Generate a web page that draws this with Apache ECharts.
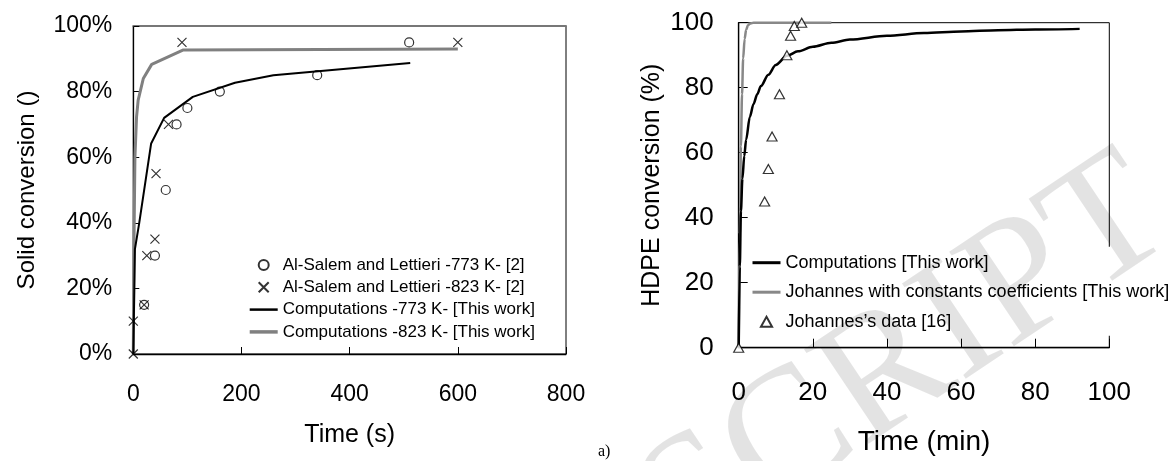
<!DOCTYPE html>
<html><head><meta charset="utf-8">
<script src="https://cdn.jsdelivr.net/npm/echarts@6/dist/echarts.min.js"></script>
<style>html,body{margin:0;padding:0;background:#fff}#c{width:1174px;height:461px}</style>
</head><body><div id="c"></div>
<script>
// ---- Left chart data (time in s, conversion in %) ----
const exp773Time = [20, 40, 60, 80, 100, 160, 340, 510];
const exp773Conv = [15, 30, 50, 70, 75, 80, 85, 95];
const exp823Time = [0, 0, 20, 25, 40, 42, 65, 90, 600];
const exp823Conv = [0, 10, 15, 30, 35, 55, 70, 95, 95];
const comp773Time = [0, 3, 11, 33, 57, 110, 188, 259, 512];
const comp773Conv = [0, 32, 40, 64.2, 72, 78.4, 82.7, 85, 88.7];
const comp823Time = [0, 1, 3, 6, 9, 18.5, 34, 92.6, 600];
const comp823Conv = [0, 30, 60, 72.3, 77.4, 84, 88.3, 92.7, 93];

// ---- Right chart data (time in min, conversion in %) ----
const johDataTime = [0, 7, 8, 9, 11, 13, 14, 15, 17];
const johDataConv = [0, 45, 55, 65, 78, 90, 96, 99, 100];
const compTime = [0, 0.3, 0.6, 1, 1.5, 2, 3, 4, 5, 6, 8, 10, 13, 16, 20, 25, 30, 40, 50, 60, 70, 80, 92];
const compConv = [0, 25, 42, 52, 59, 64, 71, 75, 78, 80.5, 84, 87, 89.8, 91.2, 92.6, 93.8, 94.8, 96, 96.8, 97.3, 97.7, 97.9, 98.1];
const johConstTime = [0, 0.3, 0.6, 0.9, 1.2, 1.6, 2, 2.5, 3, 4, 25];
const johConstConv = [0, 35, 62, 78, 89, 95, 97.8, 99.2, 99.7, 100, 100];

const leftNames = ['Al-Salem and Lettieri -773 K- [2]', 'Al-Salem and Lettieri -823 K- [2]',
  'Computations -773 K- [This work]', 'Computations -823 K- [This work]'];
const rightNames = ['Computations [This work]', 'Johannes with constants coefficients [This work]', 'Johannes\u2019s data [16]'];

const FF = '"Liberation Sans", Arial, sans-serif';
const pairs = (xs, ys) => xs.map((x, i) => [x, ys[i]]);
const crossPath = 'path://M0,0L10,10M10,0L0,10';
const lineIcon = h => 'path://M0,0L28,0L28,' + h + 'L0,' + h + 'Z';
const triIcon = 'path://M5,0L10,9L0,9Z';

const chart = echarts.init(document.getElementById('c'));
chart.setOption({
  animation: false,
  backgroundColor: '#fff',
  grid: [
    {left: 133.3, top: 26, width: 432.7, height: 328, show: true, borderColor: '#000', borderWidth: 1, outerBoundsMode: 'none', containLabel: false},
    {left: 738.7, top: 22.7, width: 370.6, height: 325, show: true, borderColor: '#000', borderWidth: 1, outerBoundsMode: 'none', containLabel: false}
  ],
  xAxis: [
    {type: 'value', gridIndex: 0, min: 0, max: 800, interval: 200,
      name: 'Time (s)', nameLocation: 'middle', nameGap: 69,
      nameTextStyle: {fontFamily: FF, fontSize: 25, color: '#000'},
      axisLine: {onZero: false, lineStyle: {color: '#000', width: 1.3}},
      axisTick: {inside: true, length: 7, lineStyle: {color: '#000'}},
      axisLabel: {fontFamily: FF, fontSize: 23, color: '#000', margin: 29},
      splitLine: {show: false}},
    {type: 'value', gridIndex: 1, min: 0, max: 100, interval: 20,
      name: 'Time (min)', nameLocation: 'middle', nameGap: 81,
      nameTextStyle: {fontFamily: FF, fontSize: 28, color: '#000'},
      axisLine: {onZero: false, lineStyle: {color: '#000', width: 1.3}},
      axisTick: {inside: true, length: 9, lineStyle: {color: '#000'}},
      axisLabel: {fontFamily: FF, fontSize: 26, color: '#000', margin: 32},
      splitLine: {show: false}},
    {type: 'value', gridIndex: 0, min: 0, max: 800, position: 'top',
      axisLine: {show: true, onZero: false, lineStyle: {color: '#777', width: 2}},
      axisTick: {show: false}, axisLabel: {show: false}, splitLine: {show: false}}
  ],
  yAxis: [
    {type: 'value', gridIndex: 0, min: 0, max: 100, interval: 20,
      name: 'Solid conversion ()', nameLocation: 'middle', nameGap: 94,
      nameTextStyle: {fontFamily: FF, fontSize: 24, color: '#000'},
      axisLine: {show: true, onZero: false, lineStyle: {color: '#000', width: 1.3}},
      axisTick: {show: true, inside: true, length: 6, lineStyle: {color: '#000'}},
      axisLabel: {fontFamily: FF, fontSize: 23, color: '#000', margin: 21, formatter: '{value}%'},
      splitLine: {show: false}},
    {type: 'value', gridIndex: 1, min: 0, max: 100, interval: 20,
      name: 'HDPE conversion (%)', nameLocation: 'middle', nameGap: 74,
      nameTextStyle: {fontFamily: FF, fontSize: 25, color: '#000'},
      axisLine: {show: true, onZero: false, lineStyle: {color: '#000', width: 1.3}},
      axisTick: {show: true, inside: true, length: 9, lineStyle: {color: '#000'}},
      axisLabel: {fontFamily: FF, fontSize: 26, color: '#000', margin: 25},
      splitLine: {show: false}}
  ],
  legend: [
    {data: [{name: leftNames[0]}, {name: leftNames[1]},
            {name: leftNames[2], icon: lineIcon(2.5)}, {name: leftNames[3], icon: lineIcon(3.5)}],
      orient: 'vertical', left: 249.7, top: 256.5, padding: 0, symbolKeepAspect: true,
      itemWidth: 28, itemHeight: 10, itemGap: 5.3,
      textStyle: {fontFamily: FF, fontSize: 17, color: '#000'}},
    {data: [{name: rightNames[0], icon: lineIcon(3)}, {name: rightNames[1], icon: lineIcon(3)},
            {name: rightNames[2], icon: triIcon}],
      orient: 'vertical', left: 749.5, top: 246.7, padding: [7, 10, 5, 3], symbolKeepAspect: true,
      backgroundColor: '#fff', itemWidth: 28, itemHeight: 10, itemGap: 11.5,
      textStyle: {fontFamily: FF, fontSize: 18, color: '#000'}}
  ],
  series: [
    {name: leftNames[2], type: 'line', xAxisIndex: 0, yAxisIndex: 0, data: pairs(comp773Time, comp773Conv),
      symbol: 'none', clip: false, lineStyle: {color: '#000', width: 2}, itemStyle: {color: '#000'}, z: 3},
    {name: leftNames[3], type: 'line', xAxisIndex: 0, yAxisIndex: 0, data: pairs(comp823Time, comp823Conv),
      symbol: 'none', clip: false, lineStyle: {color: '#808080', width: 3}, itemStyle: {color: '#808080'}, z: 2},
    {name: leftNames[0], type: 'scatter', xAxisIndex: 0, yAxisIndex: 0, data: pairs(exp773Time, exp773Conv),
      symbol: 'circle', symbolSize: 9, clip: false,
      itemStyle: {color: 'rgba(255,255,255,0)', borderColor: '#000', borderWidth: 1.2}, z: 4},
    {name: leftNames[1], type: 'scatter', xAxisIndex: 0, yAxisIndex: 0, data: pairs(exp823Time, exp823Conv),
      symbol: crossPath, symbolSize: 9, clip: false,
      itemStyle: {color: 'none', borderColor: '#000', borderWidth: 1.2}, z: 4},
    {name: rightNames[0], type: 'line', xAxisIndex: 1, yAxisIndex: 1, data: pairs(compTime, compConv),
      symbol: 'none', smooth: 0.3, smoothMonotone: 'x', clip: false,
      lineStyle: {color: '#000', width: 2.5}, itemStyle: {color: '#000'}, z: 3},
    {name: rightNames[1], type: 'line', xAxisIndex: 1, yAxisIndex: 1, data: pairs(johConstTime, johConstConv),
      symbol: 'none', smooth: 0.3, smoothMonotone: 'x', clip: false,
      lineStyle: {color: '#888', width: 2.5}, itemStyle: {color: '#888'}, z: 2},
    {name: rightNames[2], type: 'scatter', xAxisIndex: 1, yAxisIndex: 1, data: pairs(johDataTime, johDataConv),
      symbol: 'triangle', symbolSize: [10, 9], clip: false,
      itemStyle: {color: '#fff', borderColor: '#000', borderWidth: 1.2}, z: 4}
  ],
  graphic: [
    {type: 'text', left: 598, top: 444, z: 10,
      style: {text: 'a)', font: '16px "Liberation Serif", "Times New Roman", serif', fill: '#000'}},
    {type: 'text', x: 1153, y: 198, rotation: 0.59, z: 20, silent: true,
      style: {text: 'ACCEPTED MANUSCRIPT', font: '175px "Liberation Serif", "Times New Roman", serif',
        fill: 'rgba(0,0,0,0.11)', align: 'right', verticalAlign: 'middle'}}
  ]
});
</script></body></html>
